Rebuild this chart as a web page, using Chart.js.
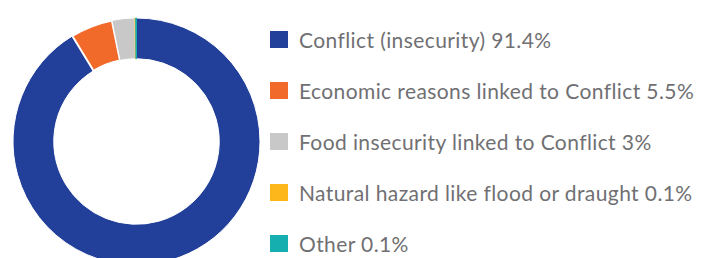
<!DOCTYPE html>
<html>
<head>
<meta charset="utf-8">
<script src="https://cdn.jsdelivr.net/npm/chart.js@4/dist/chart.umd.min.js"></script>
<style>
  html, body { margin: 0; padding: 0; background: #fff; }
  #wrap { position: relative; width: 713px; height: 258px; overflow: hidden; }
  #pie { position: absolute; left: 12px; top: 17px; width: 249px; height: 249px; }
  #legend { position: absolute; left: 270px; top: 14.6px; margin: 0; padding: 0; list-style: none;
    font-family: Lato, "Open Sans", sans-serif; font-size: 21px; letter-spacing: 0.4px; color: #707073; }
  #legend li { display: flex; align-items: center; height: 50.8px; white-space: nowrap; }
  #legend span.box { display: inline-block; width: 18px; height: 17px; margin-right: 11px; }
</style>
</head>
<body>
<div id="wrap">
  <div id="pie"><canvas id="myDoughnut"></canvas></div>
  <ul id="legend"></ul>
</div>
<script>
const reasons = [
  'Conflict (insecurity)',
  'Economic reasons linked to Conflict',
  'Food insecurity linked to Conflict',
  'Natural hazard like flood or draught',
  'Other'
];
const shares = [91.4, 5.5, 3, 0.1, 0.1];
const shareLabels = ['91.4%', '5.5%', '3%', '0.1%', '0.1%'];
const colors = ['#22409a', '#f26a2a', '#c8c8c8', '#fdb71a', '#16afb0'];

const doughnutData = {
  labels: reasons,
  datasets: [
  {
    data: shares,
    backgroundColor: colors,
    borderColor: ['#ffffff', '#ffffff', '#ffffff', colors[3], colors[4]],
    borderWidth: [1, 2, 1, 1, 1],
  }
]
};

const doughnutConfig = {
  type: 'doughnut',
  data: doughnutData,
  options: {
    responsive: true,
    maintainAspectRatio: false,
    animation: false,
    cutout: '67%',
    plugins: {
      legend: { display: false },
      tooltip: { enabled: false }
    }
  }
};

const myDoughnut = new Chart(
  document.getElementById('myDoughnut'),
  doughnutConfig
);

// html legend built from the same arrays
const legend = document.getElementById('legend');
reasons.forEach((r, i) => {
  const li = document.createElement('li');
  const box = document.createElement('span');
  box.className = 'box';
  box.style.background = colors[i];
  li.appendChild(box);
  li.appendChild(document.createTextNode(r + ' ' + shareLabels[i]));
  legend.appendChild(li);
});
</script>
</body>
</html>
